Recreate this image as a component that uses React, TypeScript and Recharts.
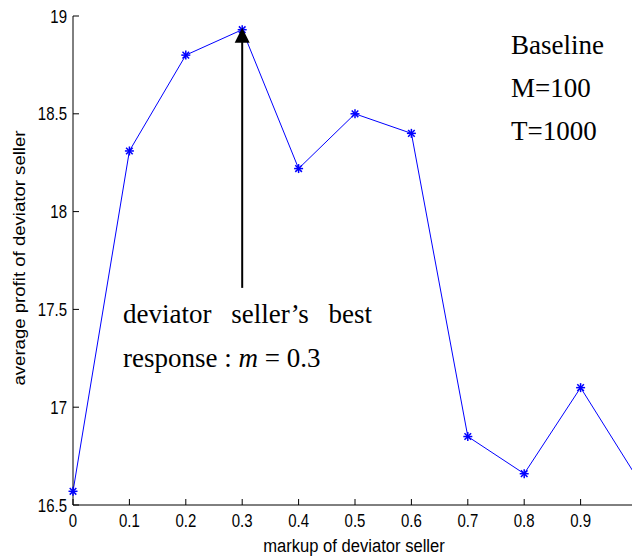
import { Line, LineChart, ReferenceDot, ReferenceLine, XAxis, YAxis } from "recharts";

const markup = [0, 0.1, 0.2, 0.3, 0.4, 0.5, 0.6, 0.7, 0.8, 0.9, 1.0];
const profit = [16.57, 18.31, 18.8, 18.93, 18.22, 18.5, 18.4, 16.85, 16.66, 17.1, 16.64];

const xTicks = [0, 0.1, 0.2, 0.3, 0.4, 0.5, 0.6, 0.7, 0.8, 0.9, 1];
const yTicks = [16.5, 17, 17.5, 18, 18.5, 19];

// arrow pointing at the best response
const bestMarkup = 0.3;
const arrowFrom = 17.61;
const arrowTo = 18.87;
const arrowTip = 18.94;

const chartData = markup.map((m, i) => ({ markup: m, profit: profit[i] }));

const sans = "'Liberation Sans', Arial, sans-serif";
const serif = "'Liberation Serif', 'Times New Roman', serif";

function BottomTick({ x, y, payload }: any) {
  // the label of the last tick falls outside the cropped picture
  const showLabel = payload.value < 1;
  return (
    <g>
      <line x1={x} x2={x} y1={y} y2={y - 6} stroke="#000" />
      {showLabel && (
        <text
          transform={`translate(${x},${y + 22}) scale(1,1.18)`}
          textAnchor="middle"
          fontFamily={sans}
          fontSize={15}
          fill="#000"
        >
          {payload.value}
        </text>
      )}
    </g>
  );
}

function LeftTick({ x, y, payload }: any) {
  return (
    <g>
      <line x1={x} x2={x + 6} y1={y} y2={y} stroke="#000" />
      <text
        transform={`translate(${x - 6},${y + 6.5}) scale(1,1.18)`}
        textAnchor="end"
        fontFamily={sans}
        fontSize={15}
        fill="#000"
      >
        {payload.value}
      </text>
    </g>
  );
}

function TopTick({ x, y }: any) {
  return <line x1={x} x2={x} y1={y} y2={y + 6} stroke="#000" />;
}

function RightTick({ x, y }: any) {
  return <line x1={x} x2={x - 6} y1={y} y2={y} stroke="#000" />;
}

function Star({ cx, cy }: any) {
  if (cx == null || cy == null) return null;
  return (
    <g stroke="#0000ff" strokeWidth={1.5}>
      <line x1={cx - 4.5} x2={cx + 4.5} y1={cy} y2={cy} />
      <line x1={cx} x2={cx} y1={cy - 4.5} y2={cy + 4.5} />
      <line x1={cx - 3.3} x2={cx + 3.3} y1={cy - 3.3} y2={cy + 3.3} />
      <line x1={cx - 3.3} x2={cx + 3.3} y1={cy + 3.3} y2={cy - 3.3} />
    </g>
  );
}

function ArrowHead({ cx, cy }: any) {
  if (cx == null || cy == null) return null;
  return <path d={`M${cx},${cy} L${cx - 7.5},${cy + 15} L${cx + 7.5},${cy + 15} Z`} fill="#000" />;
}

export default function App() {
  return (
    <div
      style={{
        position: "fixed",
        left: 0,
        top: 0,
        width: 632,
        height: 557,
        overflow: "hidden",
        background: "#fff"
      }}
    >
      <LineChart
        width={660}
        height={557}
        data={chartData}
        margin={{ top: 16, right: 23, bottom: 0, left: 0 }}
      >
        <XAxis
          dataKey="markup"
          type="number"
          domain={[0, 1]}
          ticks={xTicks}
          height={52}
          tickSize={0}
          tickMargin={0}
          tickLine={false}
          axisLine={{ stroke: "#000" }}
          tick={<BottomTick />}
          interval={0}
        />
        <XAxis
          xAxisId="top"
          orientation="top"
          dataKey="markup"
          type="number"
          domain={[0, 1]}
          ticks={xTicks}
          height={0}
          tickSize={0}
          tickMargin={0}
          tickLine={false}
          axisLine={{ stroke: "#000" }}
          tick={<TopTick />}
          interval={0}
        />
        <YAxis
          type="number"
          domain={[16.5, 19]}
          ticks={yTicks}
          width={73}
          tickSize={0}
          tickMargin={0}
          tickLine={false}
          axisLine={{ stroke: "#000" }}
          tick={<LeftTick />}
          interval={0}
        />
        <YAxis
          yAxisId="right"
          orientation="right"
          type="number"
          domain={[16.5, 19]}
          ticks={yTicks}
          width={0}
          tickSize={0}
          tickMargin={0}
          tickLine={false}
          axisLine={{ stroke: "#000" }}
          tick={<RightTick />}
          interval={0}
        />
        <Line
          dataKey="profit"
          stroke="#0000ff"
          strokeWidth={1}
          dot={<Star />}
          activeDot={false}
          isAnimationActive={false}
        />
        <ReferenceLine
          segment={[
            { x: bestMarkup, y: arrowFrom },
            { x: bestMarkup, y: arrowTo }
          ]}
          stroke="#000"
          strokeWidth={2}
        />
        <ReferenceDot x={bestMarkup} y={arrowTip} shape={<ArrowHead />} />
      </LineChart>
      <svg
        width={632}
        height={557}
        style={{ position: "absolute", left: 0, top: 0, pointerEvents: "none" }}
      >
        <text
          transform="translate(354,552) scale(1,1.12)"
          textAnchor="middle"
          fontFamily={sans}
          fontSize={16.6}
          fill="#000"
        >
          markup of deviator seller
        </text>
        <text
          transform="translate(25,258) scale(1,1.12) rotate(-90)"
          textAnchor="middle"
          fontFamily={sans}
          fontSize={16.6}
          fill="#000"
        >
          average profit of deviator seller
        </text>
        <g fontFamily={serif} fontSize={27} fill="#000">
          <text x={511} y={54}>Baseline</text>
          <text x={511} y={97}>M=100</text>
          <text x={511} y={140}>T=1000</text>
          <text x={123} y={323} wordSpacing={13}>
            deviator seller’s best
          </text>
          <text x={123} y={367}>
            response :{" "}
            <tspan fontStyle="italic">m</tspan> = 0.3
          </text>
        </g>
      </svg>
    </div>
  );
}
